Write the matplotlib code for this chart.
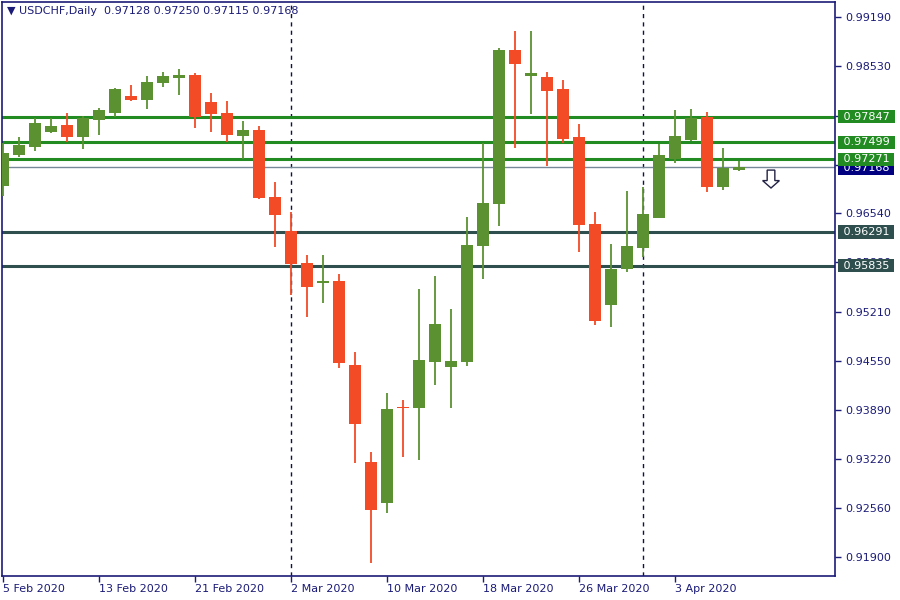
import matplotlib
matplotlib.use('Agg')
import matplotlib.pyplot as plt
import numpy as np

# trading days shown on the chart
days = ['5 Feb', '6 Feb', '7 Feb', '10 Feb', '11 Feb', '12 Feb', '13 Feb', '14 Feb',
        '17 Feb', '18 Feb', '19 Feb', '20 Feb', '21 Feb', '24 Feb', '25 Feb', '26 Feb',
        '27 Feb', '28 Feb',
        '2 Mar', '3 Mar', '4 Mar', '5 Mar', '6 Mar', '9 Mar', '10 Mar', '11 Mar',
        '12 Mar', '13 Mar', '16 Mar', '17 Mar', '18 Mar', '19 Mar', '20 Mar', '23 Mar',
        '24 Mar', '25 Mar', '26 Mar', '27 Mar', '30 Mar', '31 Mar',
        '1 Apr', '2 Apr', '3 Apr', '6 Apr', '7 Apr', '8 Apr', '9 Apr']

opens = [0.96915, 0.97334, 0.97442, 0.97644, 0.97735, 0.97577, 0.97807, 0.97901,
         0.98127, 0.98077, 0.98306, 0.98374, 0.98410, 0.98046, 0.97897, 0.97590,
         0.97667, 0.96762, 0.96303, 0.95871, 0.95604, 0.95627, 0.94493, 0.93182,
         0.92632, 0.93929, 0.93916, 0.94537, 0.94470, 0.94537, 0.96104, 0.96672,
         0.98748, 0.98401, 0.98383, 0.98221, 0.97573, 0.96397, 0.95307, 0.95794,
         0.96077, 0.96483, 0.97276, 0.97536, 0.97843, 0.96901, 0.97128]
highs = [0.97488, 0.97569, 0.97826, 0.97826, 0.97897, 0.97857, 0.97965, 0.98235,
         0.98275, 0.98397, 0.98451, 0.98492, 0.98437, 0.98167, 0.98059, 0.97789,
         0.97722, 0.96965, 0.96560, 0.95979, 0.95979, 0.95722, 0.94668, 0.93317,
         0.94114, 0.94020, 0.95519, 0.95695, 0.95249, 0.96492, 0.97496, 0.98775,
         0.99005, 0.99005, 0.98451, 0.98343, 0.97749, 0.96560, 0.96127, 0.96843,
         0.96893, 0.97482, 0.97938, 0.97951, 0.97911, 0.97420, 0.97250]
lows = [0.96780, 0.97307, 0.97388, 0.97631, 0.97509, 0.97411, 0.97600, 0.97839,
        0.98063, 0.97955, 0.98252, 0.98144, 0.97699, 0.97644, 0.97509, 0.97276,
        0.96739, 0.96091, 0.95432, 0.95145, 0.95326, 0.94456, 0.93173, 0.91822,
        0.92497, 0.93254, 0.93213, 0.94226, 0.93916, 0.94483, 0.95659, 0.96375,
        0.97428, 0.97888, 0.97185, 0.97496, 0.96023, 0.95037, 0.95010, 0.95753,
        0.95956, 0.96483, 0.97222, 0.97519, 0.96834, 0.96861, 0.97115]
closes = [0.97353, 0.97465, 0.97762, 0.97722, 0.97577, 0.97826, 0.97938, 0.98221,
          0.98077, 0.98316, 0.98397, 0.98410, 0.97839, 0.97888, 0.97604, 0.97667,
          0.96753, 0.96523, 0.95861, 0.95550, 0.95627, 0.94524, 0.93700, 0.92538,
          0.93898, 0.93916, 0.94560, 0.95047, 0.94547, 0.96114, 0.96681, 0.98748,
          0.98563, 0.98437, 0.98198, 0.97550, 0.96388, 0.95091, 0.95790, 0.96100,
          0.96533, 0.97330, 0.97586, 0.97834, 0.96901, 0.97150, 0.97168]

resistance = [0.97847, 0.97499, 0.97271]
support = [0.96291, 0.95835]
last_price = 0.97168
price_ticks = [0.99190, 0.98530, 0.97860, 0.97200, 0.96540, 0.95880,
               0.95210, 0.94550, 0.93890, 0.93220, 0.92560, 0.91900]

GREEN = '#5b9131'
RED = '#f24b25'
NAVY = '#1b1b78'

x = np.arange(len(days))
o = np.array(opens)
c = np.array(closes)
up = c >= o
cols = np.where(up, GREEN, RED)

fig = plt.figure(figsize=(9, 6), dpi=100)
ax = fig.add_axes([2 / 900, 24 / 600, 833 / 900, 574 / 600])

# candles
ax.vlines(x, lows, highs, colors=cols, lw=1.3, zorder=3)
body = np.maximum(np.abs(c - o), 0.00004)
ax.bar(x, body, bottom=np.minimum(o, c), width=0.69, color=cols, zorder=3)

# month separators
for i in range(1, len(days)):
    if days[i].split()[1] != days[i - 1].split()[1]:
        ax.axvline(i, color='#10104a', lw=1, ls=(0, (3, 3)), zorder=1)

# levels
ax.axhline(last_price, color='#778899', lw=1, zorder=2)
for lv in resistance:
    ax.axhline(lv, color='#228b22', lw=2.2, zorder=2)
for lv in support:
    ax.axhline(lv, color='#2f4f4f', lw=2.2, zorder=2)


def price_label(lv, bg, z, shift=0.0):
    ax.text(1.0056, lv + shift, ' %.5f ' % lv, transform=ax.get_yaxis_transform(),
            va='center', ha='left', color='white', fontsize=8, zorder=z,
            bbox=dict(boxstyle='square,pad=0.15', fc=bg, ec='none'), clip_on=False)


price_label(last_price, '#000080', 4, -0.00015)
for lv in resistance:
    price_label(lv, '#228b22', 5)
for lv in support:
    price_label(lv, '#2f4f4f', 5)

# sell arrow
ax.arrow(48, 0.97126, 0, -0.00242, width=0.48, head_width=1.05, head_length=0.00100,
         length_includes_head=True, fc='white', ec='#222244', lw=1, zorder=4)

ax.set_xlim(-0.0625, 52)
ax.set_ylim(0.91642, 0.99397)

ax.yaxis.tick_right()
ax.set_yticks(price_ticks)
ax.set_yticklabels(['%.5f' % t for t in price_ticks])
tick_pos = x[::6]
ax.set_xticks(tick_pos)
ax.set_xticklabels([days[i] + ' 2020' for i in tick_pos], ha='left')
ax.tick_params(colors=NAVY, labelcolor=NAVY, labelsize=8, length=4, width=1)
ax.tick_params(axis='x', pad=2)
for s in ax.spines.values():
    s.set_color(NAVY)
    s.set_linewidth(1.2)

ax.text(0.006, 0.985, '\u25bc USDCHF,Daily  0.97128 0.97250 0.97115 0.97168',
        transform=ax.transAxes, va='center', ha='left', color=NAVY, fontsize=8)

fig.savefig('out.png', dpi=100)
